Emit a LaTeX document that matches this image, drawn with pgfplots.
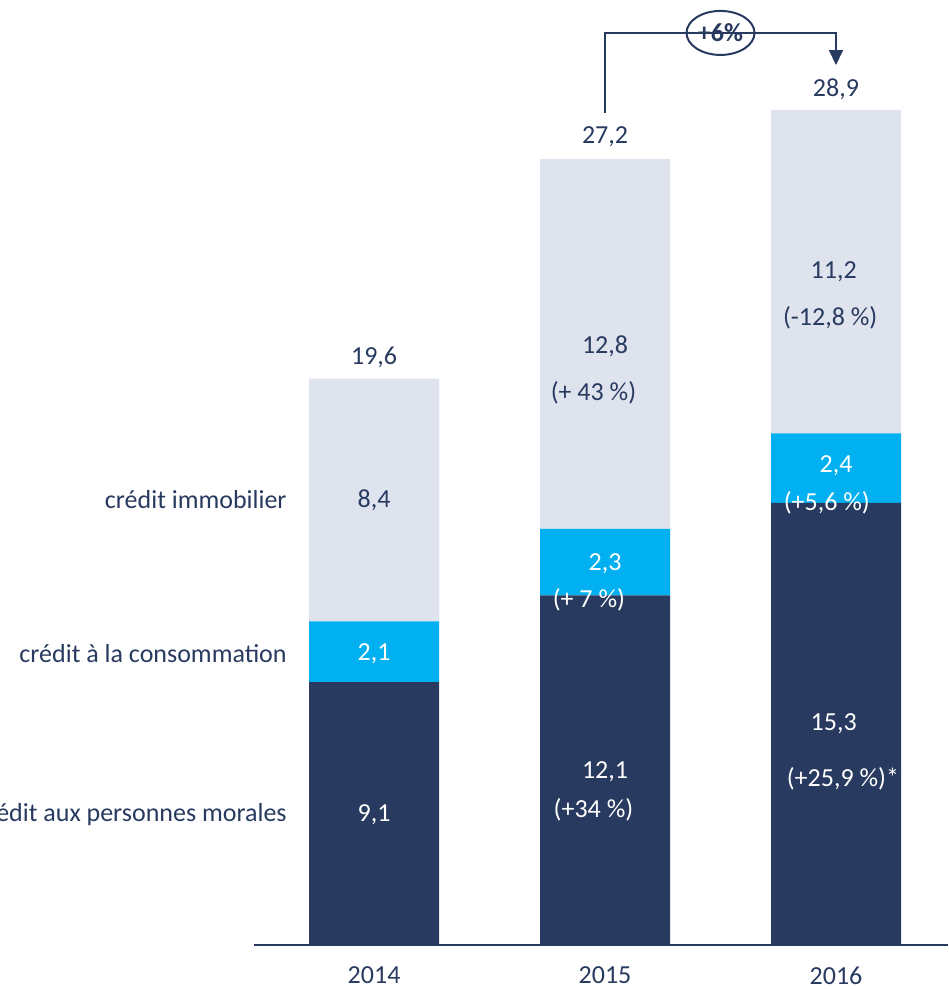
\documentclass[border=0pt]{standalone}
\usepackage{pgfplots}
\pgfplotsset{compat=1.18}
\usepackage{fontspec}
\setmainfont{Carlito}
\usetikzlibrary{arrows.meta}
\definecolor{navy}{HTML}{283A5F}
\definecolor{cyanbar}{HTML}{00B0F0}
\definecolor{lightbar}{HTML}{DEE3EE}
\begin{document}
\begin{tikzpicture}[
  lab/.style={font=\fontsize{13}{15}\selectfont, text=navy, inner sep=0pt},
  wlab/.style={font=\fontsize{13}{15}\selectfont, text=white, inner sep=0pt},
]
\begin{axis}[
  set layers=standard,
  scale only axis, width=347pt, height=472.5pt,
  xmin=-0.52, xmax=2.485, ymin=0, ymax=32.7,
  ybar stacked, bar width=65pt,
  axis x line=bottom, axis y line=none,
  axis line style={navy, line width=1pt, -},
  xtick={0,1,2}, xticklabels={2014,2015,2016},
  major tick length=0pt,
  xticklabel style={font=\fontsize{13}{15}\selectfont, text=navy, yshift=-7.5pt},
  clip=false,
]
\addplot[fill=navy, draw=none, on layer=axis background] coordinates {(0,9.1) (1,12.1) (2,15.3)};
\addplot[fill=cyanbar, draw=none, on layer=axis background] coordinates {(0,2.1) (1,2.3) (2,2.4)};
\addplot[fill=lightbar, draw=none, on layer=axis background] coordinates {(0,8.4) (1,12.8) (2,11.2)};

% row labels
\node[lab, anchor=east] at (axis cs:-0.377,15.4) {crédit immobilier};
\node[lab, anchor=east] at (axis cs:-0.377,10.07) {crédit à la consommation};
\node[lab, anchor=east] at (axis cs:-0.377,4.5) {crédit aux personnes morales};

% 2014
\node[lab] at (axis cs:0,20.35) {19,6};
\node[lab] at (axis cs:0,15.4) {8,4};
\node[wlab] at (axis cs:0,10.07) {2,1};
\node[wlab] at (axis cs:0,4.5) {9,1};
% 2015
\node[lab] at (axis cs:1,27.96) {27,2};
\node[lab] at (axis cs:1,20.7) {12,8};
\node[lab] at (axis cs:0.95,19.1) {(+ 43 \%)};
\node[wlab] at (axis cs:1,13.2) {2,3};
\node[wlab] at (axis cs:0.93,11.94) {(+ 7 \%)};
\node[wlab] at (axis cs:1,5.99) {12,1};
\node[wlab] at (axis cs:0.95,4.67) {(+34 \%)};
% 2016
\node[lab] at (axis cs:2,29.6) {28,9};
\node[lab] at (axis cs:1.99,23.29) {11,2};
\node[lab] at (axis cs:1.975,21.7) {(-12,8 \%)};
\node[wlab] at (axis cs:2,16.57) {2,4};
\node[wlab] at (axis cs:1.96,15.29) {(+5,6 \%)};
\node[wlab] at (axis cs:1.99,7.65) {15,3};
\node[wlab] at (axis cs:2.03,5.74) {(+25,9 \%)*};

% growth arrow
\draw[navy, line width=1pt, -{Triangle[length=7.5pt,width=7pt]}]
  (axis cs:1,28.79) |- (axis cs:2,31.56) -- (axis cs:2,30.45);
\draw[navy, line width=1pt, fill=white] (axis cs:1.5,31.56) ellipse [x radius=17pt, y radius=11pt]
  node[lab, font=\fontsize{13}{15}\selectfont\bfseries] {+6\%};
\end{axis}
\pgfresetboundingbox
\path[use as bounding box] ([xshift=-127pt,yshift=-22pt]current axis.south west)
  rectangle (current axis.north east);
\end{tikzpicture}
\end{document}
